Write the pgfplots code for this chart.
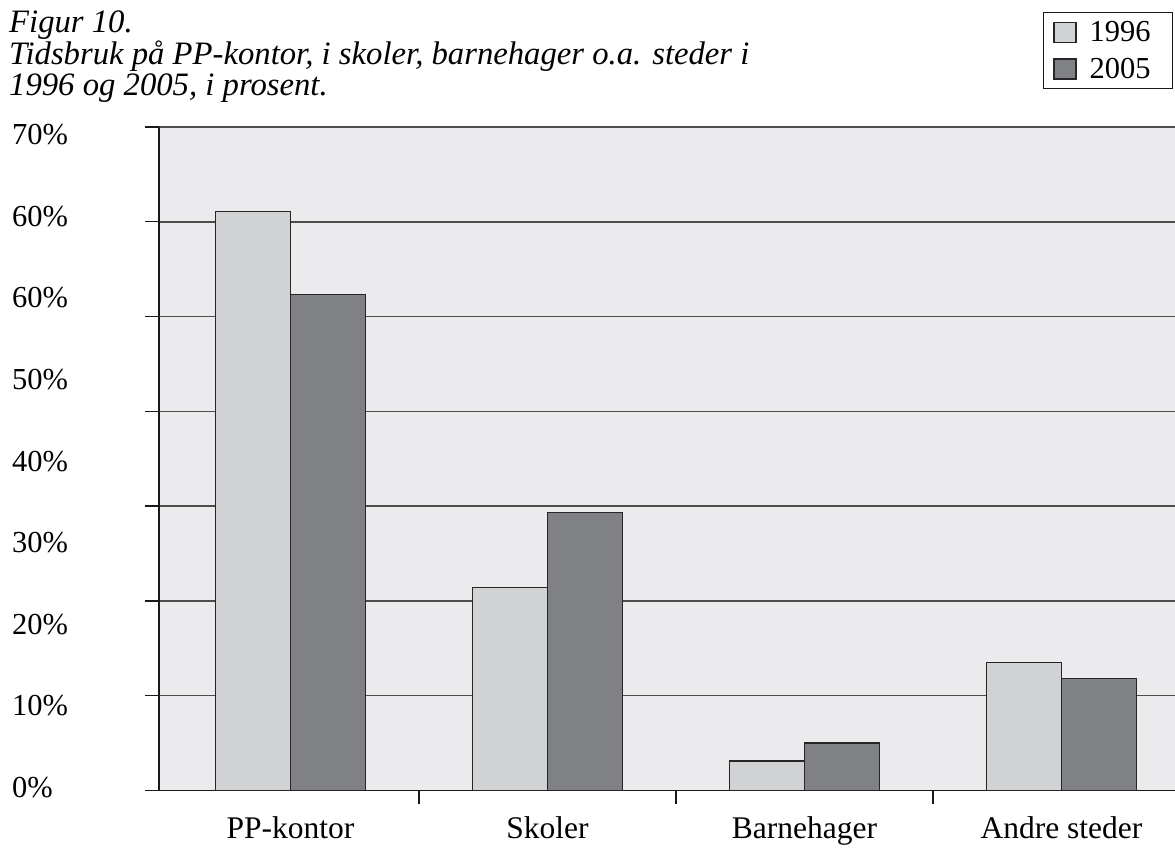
\documentclass[border=0pt]{standalone}
\usepackage{fontspec}
\setmainfont{Liberation Serif}
\usepackage{pgfplots}
\pgfplotsset{compat=1.18}
\definecolor{bgc}{HTML}{EBEBED}
\definecolor{c96}{HTML}{D1D2D4}
\definecolor{c05}{HTML}{808184}
\definecolor{gridc}{HTML}{4D4D4D}
\begin{document}
\begin{tikzpicture}[x=1bp,y=1bp]
\useasboundingbox (0,0) rectangle (1175,848);
\node[anchor=base west, align=left, inner sep=0pt, font=\itshape\fontsize{32.7bp}{31.5bp}\selectfont] at (9,752)
  {Figur 10.\\Tidsbruk på PP-kontor, i skoler, barnehager o.a. steder i\\1996 og 2005, i prosent.};
\begin{axis}[
  at={(159bp,57.5bp)}, anchor=south west, scale only axis,
  width=1016bp, height=663.5bp,
  xmin=-0.5117, xmax=3.4416, ymin=0, ymax=70,
  axis x line*=bottom, axis y line*=left,
  axis line style={black!90, line width=1.3bp},
  axis background/.style={fill=bgc},
  ytick={0,10,...,70}, yticklabels={},
  xtick={0.5,1.5,2.5}, xticklabels={},
  ymajorgrids, grid style={gridc, line width=1.5bp},
  tick align=outside, major tick length=14bp,
  tick style={black!90, line width=1.4bp},
  legend style={at={(rel axis cs:0.870,1.1734)}, anchor=north west,
    draw=black!90, line width=1bp, font=\fontsize{30.5bp}{32bp}\selectfont,
    inner xsep=10bp, inner ysep=9bp, row sep=15bp, column sep=13bp,
    nodes={inner sep=0pt}},
  legend cell align=left,
  legend image code/.code={\draw[#1, line width=1.2bp] (0bp,-10bp) rectangle (22bp,10bp);},
]
\addplot[ybar, bar width=0.2918, bar shift=-0.1459, fill=c96, draw=black!85, line width=1.3bp]
  coordinates {(0,61.1) (1,21.4) (2,3.1) (3,13.5)};
\addlegendentry{\makebox[73bp][l]{1996}}
\addplot[ybar, bar width=0.2918, bar shift=0.1459, fill=c05, draw=black!85, line width=1.3bp]
  coordinates {(0,52.3) (1,29.3) (2,5.0) (3,11.8)};
\addlegendentry{\makebox[73bp][l]{2005}}
\end{axis}
\begin{axis}[
  at={(159bp,57.5bp)}, anchor=south west, scale only axis,
  width=1016bp, height=663.5bp,
  xmin=-0.5117, xmax=3.4416, ymin=0, ymax=70,
  axis line style={draw=none}, tick style={draw=none}, major tick length=0pt,
  ytick={0.3,8.91,17.52,26.13,34.74,43.35,51.96,60.57,69.18},
  yticklabels={0\%,10\%,20\%,30\%,40\%,50\%,60\%,60\%,70\%},
  xtick={0,1,2,3},
  xticklabels={PP-kontor,Skoler,Barnehager,Andre steder},
  yticklabel style={anchor=west, inner sep=0pt, xshift=-147bp, font=\fontsize{30.5bp}{32bp}\selectfont},
  xticklabel style={anchor=north, inner sep=0pt, yshift=-26bp, font=\fontsize{31.5bp}{33bp}\selectfont},
]
\end{axis}
\end{tikzpicture}
\end{document}
